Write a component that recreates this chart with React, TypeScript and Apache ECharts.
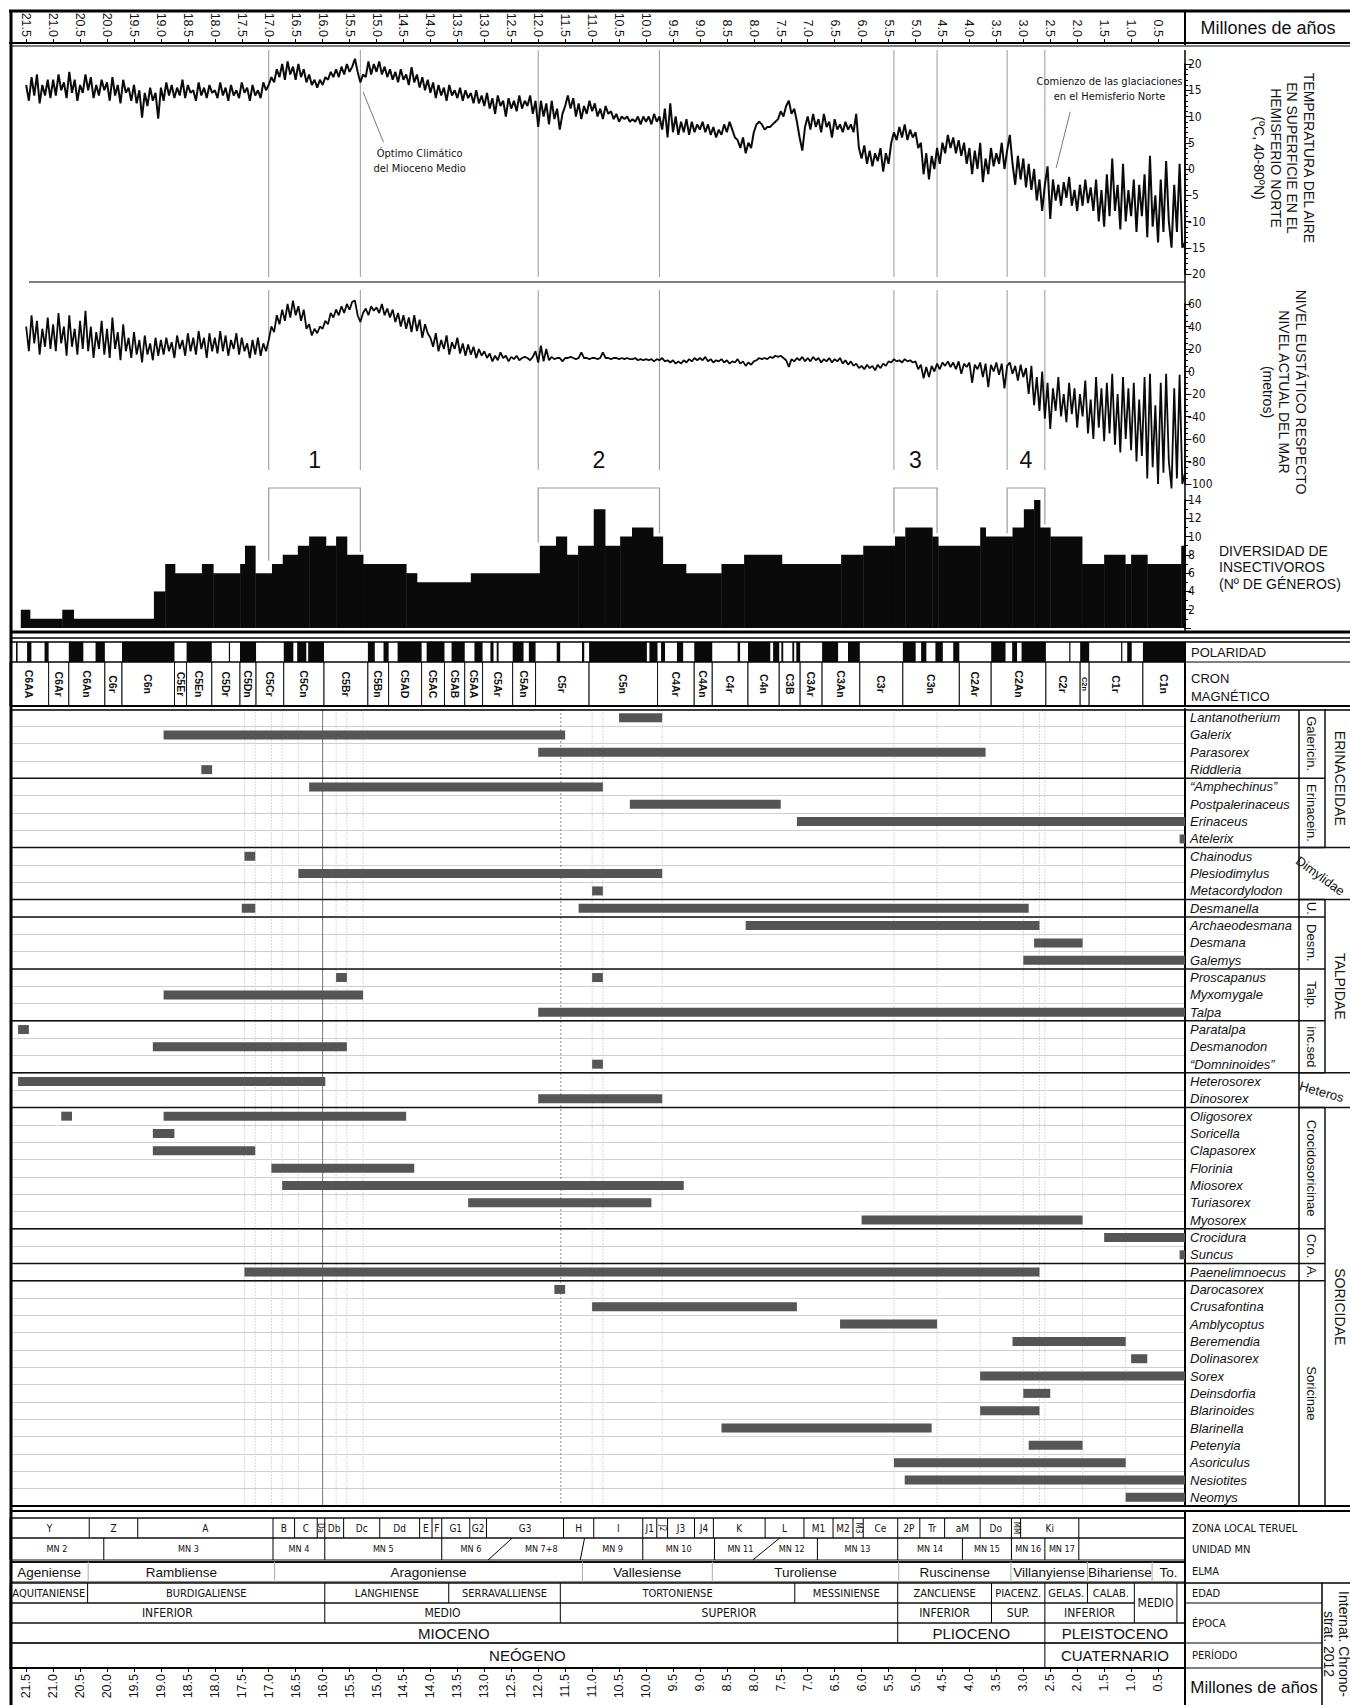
import React, { useEffect, useRef } from 'react';
import * as echarts from 'echarts';

const W = 1350;
const H = 1705;
const AGE_MAX = 21.8;
const FONT = "'Liberation Sans', Arial, Helvetica, sans-serif";
const NARROW = "'Liberation Sans Narrow', 'DejaVu Sans Condensed', 'Liberation Sans', sans-serif";

// ---------- tick labels ----------
const ageTicks = [21.5, 21.0, 20.5, 20.0, 19.5, 19.0, 18.5, 18.0, 17.5, 17.0, 16.5, 16.0, 15.5, 15.0, 14.5, 14.0, 13.5, 13.0, 12.5, 12.0, 11.5, 11.0, 10.5, 10.0, 9.5, 9.0, 8.5, 8.0, 7.5, 7.0, 6.5, 6.0, 5.5, 5.0, 4.5, 4.0, 3.5, 3.0, 2.5, 2.0, 1.5, 1.0, 0.5];

// ---------- temperature (ºC), sampled every 0.05 Ma ----------
const SAMPLE_STEP = 0.05;
const tempEarlyMiocene = [
  16, 13, 17.5, 14, 18, 12.5, 16, 14, 17, 13.5,
  17, 14, 18, 15, 16.5, 13.5, 18.5, 14.5, 17, 13, 16, 14.5, 18, 15, 17.5, 13.5, 16, 14, 17, 15,
  16.5, 13, 17.5, 14, 16, 12.5, 17, 14.5, 15.5, 13, 16, 12.5, 15, 9.8, 14.5, 12, 15.5, 13, 14.5, 9.6,
  15.5, 13, 16.5, 14, 16, 13.5, 15.5, 14, 17, 13.5, 16, 14.5, 15, 13, 16.5, 14, 15.5, 13.5, 16, 14.5,
  15, 13.5, 16.5, 14, 15.5, 13, 16, 14, 15, 13.5, 16.5, 14.5, 15.5, 13, 16, 14, 15, 13.5, 16.5, 15,
  16, 17.5, 16.5, 19, 17.5, 20, 17, 20.5, 18, 19.5, 17, 20, 17.5, 19, 16.5, 18, 16, 17, 15.5, 17,
];
const tempMiddleMiocene = [
  16, 17.5, 17, 18.5, 17.5, 19, 17.5, 19.5, 18, 20, 18.5, 19.5, 21, 18.5, 16.5, 18, 17.5, 20.5, 18, 20,
  18.5, 20.5, 18, 19.5, 17.5, 19, 17, 18.5, 16.5, 19, 17, 18, 16, 19.4, 16.5, 18, 15.5, 17.5, 15, 17,
  14.5, 16.5, 13.5, 16, 14, 15.5, 13, 16, 14, 15, 13.5, 15.5, 13, 15, 13.5, 14.5, 12.5, 15, 12.5, 14,
  12, 14.5, 11.5, 13.5, 10.5, 14, 12, 13, 10, 13.5, 11.5, 13, 11, 14, 11.5, 13, 12, 14, 10.5, 13,
  8, 13, 10, 12.5, 8.5, 13, 9.5, 11.5, 7.5, 10.5, 12, 14, 11.5, 13.5, 10, 12.5, 9.5, 12, 10.5, 13,
];
const tempLateMiocene = [
  11, 12.5, 10, 11.5, 9.5, 12, 10.5, 11, 9.5, 10.5, 9, 10, 9.5, 10, 9, 9.5, 9, 10, 8.5, 10,
  9, 10, 8.5, 10.5, 9, 10, 7.5, 11.5, 6, 12.5, 7, 10, 6.5, 9, 7, 9.5, 6.5, 9, 7, 8.5,
  7.5, 9, 7, 8.5, 6.5, 8, 6, 7.5, 6.5, 8.5, 7, 9, 7.5, 6, 5.5, 4, 6, 3, 5, 4,
  7, 8.5, 9, 8.5, 7.5, 8, 8, 8.5, 9, 9.5, 11, 10, 12, 13, 10.5, 11.5, 9, 6, 3.5, 8,
  10, 7.5, 10.5, 8, 9.5, 7, 10.5, 8, 9, 6, 9.5, 7.5, 8.5, 7, 9, 7.5, 8.5, 7, 10.5, 4,
  2, 4.5, 1, 3.5, 0.5, 3, 1.5, 4, -0.5, 3, 1, 5, 7, 5.5, 8, 6, 8.5, 5.5, 7.5, 6,
];
const tempPliocene = [
  7, 4, 5, -1, 3, -2, 2.5, 0, 4, 1, 5, 3, 6.5, 4, 6, 3, 5.5, 2.5, 5, 1,
  4, -1, 3.5, 0, 5, -2.5, 2, -1, 4, 0.5, 3, 1, 5, 0, 3.5, 6.5, 1, -3, 2.5, -2,
  2, -3.5, 1, -4, 0, -6, -2, -8, -3, 0.5, -9.5, -2, -6, -3, -7, -2.5, -5.5, -1.5, -7, -4,
];
const tempPleistocene = [
  -8, -3, -7, -2, -6.5, -3.5, -8, -2, -10, -4, -11, -1, -9, 2, -8, -3, -11.5, 1, -10, -4,
  -9, -2, -12, -3, -9, -1, -13, 2.5, -11, -5, -14, -2, -12, 1.5, -10, -15, -3, -12, 1, -15,
  -14,
];

// ---------- eustatic sea level (m), sampled every 0.05 Ma ----------
const seaEarlyMiocene = [
  40, 18, 50, 25, 45, 15, 38, 22, 48, 20,
  42, 18, 52, 25, 40, 14, 50, 22, 38, 15, 45, 20, 54, 18, 40, 12, 35, 20, 45, 15,
  38, 12, 48, 20, 35, 10, 42, 18, 30, 12, 35, 15, 28, 8, 32, 15, 25, 10, 30, 14,
  28, 15, 30, 18, 26, 12, 32, 20, 28, 14, 34, 18, 30, 15, 36, 20, 30, 12, 34, 18,
  30, 16, 36, 18, 32, 14, 28, 20, 34, 15, 30, 18, 25, 12, 28, 15, 30, 14, 25, 18,
  28, 40, 35, 50, 42, 55, 45, 60, 48, 63, 50, 58, 45, 55, 38, 42, 32, 38, 34, 40,
];
const seaMiddleMiocene = [
  38, 45, 42, 52, 48, 55, 50, 58, 52, 60, 55, 62, 63, 50, 44, 52, 56, 50, 58, 54,
  57, 52, 60, 50, 56, 48, 55, 44, 52, 40, 50, 38, 48, 35, 50, 36, 46, 30, 42, 34,
  30, 22, 34, 18, 28, 20, 32, 15, 26, 20, 30, 16, 25, 14, 24, 15, 22, 12, 20, 14,
  18, 12, 16, 9, 14, 10, 17, 12, 14, 9, 13, 11, 14, 10, 12, 13, 12, 10, 13, 18,
  8, 23, 9, 20, 10, 13, 11, 12, 12, 9, 12, 12, 13, 12, 11, 12, 17, 12, 12, 11,
];
const seaLateMiocene = [
  12, 12, 11, 12, 17, 12, 12, 11, 12, 12, 11, 12, 11, 12, 11, 11, 12, 10, 11, 10,
  11, 10, 11, 9, 11, 10, 12, 9, 10, 8, 10, 7, 9, 7, 10, 8, 11, 9, 12, 10,
  12, 10, 13, 9, 11, 8, 10, 9, 11, 8, 10, 7, 9, 8, 11, 7, 9, 5, 8, 6,
  9, 10, 12, 11, 12, 11, 13, 12, 14, 13, 14, 12, 10, 4, 11, 9, 12, 10, 13, 9,
  12, 9, 13, 10, 12, 8, 11, 9, 12, 8, 11, 9, 12, 7, 10, 6, 9, 5, 7, 3,
  5, 2, 6, 3, 5, 1, 6, 3, 7, 5, 9, 8, 11, 9, 10, 8, 11, 9, 10, 8,
];
const seaPliocene = [
  9, 2, 6, -6, 4, -5, 5, 0, 7, 2, 8, 5, 9, 4, 8, 2, 9, -2, 7, 4,
  8, -10, 6, 2, 8, -5, 7, -14, 6, 0, 8, -3, 7, -15, 5, 8, -2, 5, -8, 6,
  -5, 3, -20, 5, -30, -5, -35, 0, -42, -10, -51, -15, -35, -5, -40, -20, -45, -10, -38, -15,
];
const seaPleistocene = [
  -50, -20, -40, -8, -55, -25, -60, -5, -50, -15, -62, -10, -55, -2, -65, -20, -72, -5, -60, -15,
  -70, -10, -80, -25, -75, -5, -95, -2, -85, -30, -100, -10, -90, -2, -80, -104, -15, -95, -3, -100,
  -90,
];

// ---------- insectivore diversity (number of genera): [older, younger, genera] ----------
const diversity = [
  [21.6, 21.43, 2], [21.43, 20.83, 1], [20.83, 20.62, 2], [20.62, 19.13, 1], [19.13, 18.92, 4],
  [18.92, 18.74, 7], [18.74, 18.24, 6], [18.24, 18.03, 7], [18.03, 17.53, 6], [17.53, 17.44, 7],
  [17.44, 17.25, 9], [17.25, 16.94, 6], [16.94, 16.74, 7], [16.74, 16.46, 8], [16.46, 16.25, 9],
  [16.25, 15.94, 10], [15.94, 15.75, 9], [15.75, 15.55, 10], [15.55, 15.25, 8], [15.25, 14.45, 7],
  [14.45, 14.25, 6], [14.25, 13.25, 5], [13.25, 11.97, 6], [11.97, 11.67, 9], [11.67, 11.47, 10],
  [11.47, 11.26, 8], [11.26, 10.97, 9], [10.97, 10.76, 13], [10.76, 10.48, 9], [10.48, 10.26, 10],
  [10.26, 9.87, 11], [9.87, 9.69, 10], [9.69, 9.26, 7], [9.26, 8.6, 6], [8.6, 8.18, 7],
  [8.18, 7.48, 8], [7.48, 6.38, 7], [6.38, 5.97, 8], [5.97, 5.38, 9], [5.38, 5.19, 10],
  [5.19, 4.69, 11], [4.69, 4.58, 10], [4.58, 3.8, 9], [3.8, 3.7, 11], [3.7, 3.2, 10],
  [3.2, 2.99, 11], [2.99, 2.8, 13], [2.8, 2.69, 14], [2.69, 2.5, 11], [2.5, 1.91, 10],
  [1.91, 1.5, 7], [1.5, 1.11, 8], [1.11, 1.0, 7], [1.0, 0.7, 8], [0.7, 0.07, 7], [0.07, 0, 9],
];

const diversityPulses = [
  { label: '1', from: 17.0, to: 15.3 },
  { label: '2', from: 12.0, to: 9.75 },
  { label: '3', from: 5.4, to: 4.6 },
  { label: '4', from: 3.3, to: 2.6 },
];

const annotations = [
  { text: 'Óptimo Climático\ndel Mioceno Medio', at: [14.2, 1.6], from: [15.25, 14.7], to: [14.87, 5.1] },
  { text: 'Comienzo de las glaciaciones\nen el Hemisferio Norte', at: [1.4, 15.3], from: [2.13, 10.9], to: [2.39, 0.2] },
];

// ---------- magnetic polarity: normal intervals [older, younger] ----------
const normalPolarity = [
  [21.8, 21.767], [21.688, 21.659], [21.483, 21.403], [21.159, 21.083], [20.709, 20.439], [20.213, 20.04],
  [19.722, 18.748], [18.524, 18.056], [17.74, 17.717], [17.533, 17.235], [16.721, 16.543], [16.472, 16.303],
  [16.268, 15.974], [15.16, 15.032], [14.87, 14.775], [14.609, 14.163], [14.07, 13.739], [13.608, 13.363],
  [13.183, 13.032], [12.887, 12.829], [12.77, 12.735], [12.474, 12.272], [12.174, 12.049], [11.657, 11.592],
  [11.188, 11.146], [11.056, 9.984], [9.937, 9.786], [9.721, 9.647], [9.426, 9.311], [9.105, 8.771],
  [8.3, 8.254], [8.108, 7.695], [7.642, 7.528], [7.489, 7.454], [7.285, 7.251], [7.212, 7.14],
  [6.733, 6.436], [6.252, 6.033], [5.235, 4.997], [4.896, 4.799], [4.631, 4.493], [4.3, 4.187],
  [3.596, 3.33], [3.207, 3.116], [3.032, 2.581], [2.148, 2.128], [1.945, 1.778], [1.185, 1.173],
  [1.072, 0.988], [0.781, 0],
];

const chrons = [
  ['C6AA', 21.8, 21.083], ['C6Ar', 21.083, 20.709], ['C6An', 20.709, 20.04], ['C6r', 20.04, 19.722],
  ['C6n', 19.722, 18.748], ['C5Er', 18.748, 18.524], ['C5En', 18.524, 18.056], ['C5Dr', 18.056, 17.533],
  ['C5Dn', 17.533, 17.235], ['C5Cr', 17.235, 16.721], ['C5Cn', 16.721, 15.974], ['C5Br', 15.974, 15.16],
  ['C5Bn', 15.16, 14.775], ['C5AD', 14.775, 14.163], ['C5AC', 14.163, 13.739], ['C5AB', 13.739, 13.363],
  ['C5AA', 13.363, 13.032], ['C5Ar', 13.032, 12.474], ['C5An', 12.474, 12.049], ['C5r', 12.049, 11.056],
  ['C5n', 11.056, 9.786], ['C4Ar', 9.786, 9.105], ['C4An', 9.105, 8.771], ['C4r', 8.771, 8.108],
  ['C4n', 8.108, 7.528], ['C3B', 7.528, 7.14], ['C3Ar', 7.14, 6.733], ['C3An', 6.733, 6.033],
  ['C3r', 6.033, 5.235], ['C3n', 5.235, 4.187], ['C2Ar', 4.187, 3.596], ['C2An', 3.596, 2.581],
  ['C2r', 2.581, 1.945], ['C2n', 1.945, 1.778], ['C1r', 1.778, 0.781], ['C1n', 0.781, 0],
];

// ---------- taxa and stratigraphic ranges ----------
const taxa = [
  'Lantanotherium', 'Galerix', 'Parasorex', 'Riddleria',
  '“Amphechinus”', 'Postpalerinaceus', 'Erinaceus', 'Atelerix',
  'Chainodus', 'Plesiodimylus', 'Metacordylodon',
  'Desmanella',
  'Archaeodesmana', 'Desmana', 'Galemys',
  'Proscapanus', 'Myxomygale', 'Talpa',
  'Paratalpa', 'Desmanodon', '“Domninoides”',
  'Heterosorex', 'Dinosorex',
  'Oligosorex', 'Soricella', 'Clapasorex', 'Florinia', 'Miosorex', 'Turiasorex', 'Myosorex',
  'Crocidura', 'Suncus',
  'Paenelimnoecus',
  'Darocasorex', 'Crusafontina', 'Amblycoptus', 'Beremendia', 'Dolinasorex', 'Sorex', 'Deinsdorfia',
  'Blarinoides', 'Blarinella', 'Petenyia', 'Asoriculus', 'Nesiotites', 'Neomys',
];

const taxonRanges = [
  ['Lantanotherium', 10.5, 9.7], ['Galerix', 18.95, 11.5], ['Parasorex', 12.0, 3.7], ['Riddleria', 18.25, 18.05],
  ['“Amphechinus”', 16.25, 10.8], ['Postpalerinaceus', 10.3, 7.5], ['Erinaceus', 7.2, 0], ['Atelerix', 0.1, 0],
  ['Chainodus', 17.45, 17.25], ['Plesiodimylus', 16.45, 9.7], ['Metacordylodon', 11.0, 10.8],
  ['Desmanella', 17.5, 17.25], ['Desmanella', 11.25, 2.9],
  ['Archaeodesmana', 8.15, 2.7], ['Desmana', 2.8, 1.9], ['Galemys', 3.0, 0],
  ['Proscapanus', 15.75, 15.55], ['Proscapanus', 11.0, 10.8], ['Myxomygale', 18.95, 15.25], ['Talpa', 12.0, 0],
  ['Paratalpa', 21.65, 21.45], ['Desmanodon', 19.15, 15.55], ['“Domninoides”', 11.0, 10.8],
  ['Heterosorex', 21.65, 15.95], ['Dinosorex', 12.0, 9.7],
  ['Oligosorex', 20.85, 20.65], ['Oligosorex', 18.95, 14.45], ['Soricella', 19.15, 18.75], ['Clapasorex', 19.15, 17.25],
  ['Florinia', 16.95, 14.3], ['Miosorex', 16.75, 9.3], ['Turiasorex', 13.3, 9.9], ['Myosorex', 6.0, 1.9],
  ['Crocidura', 1.5, 0], ['Suncus', 0.1, 0], ['Paenelimnoecus', 17.45, 2.7],
  ['Darocasorex', 11.7, 11.5], ['Crusafontina', 11.0, 7.2], ['Amblycoptus', 6.4, 4.6], ['Beremendia', 3.2, 1.1],
  ['Dolinasorex', 1.0, 0.7], ['Sorex', 3.8, 0], ['Deinsdorfia', 3.0, 2.5], ['Blarinoides', 3.8, 2.7],
  ['Blarinella', 8.6, 4.7], ['Petenyia', 2.9, 1.9], ['Asoriculus', 5.4, 1.1], ['Nesiotites', 5.2, 0], ['Neomys', 1.1, 0],
];

const subfamilies = [
  ['Galericin.', 0, 3], ['Erinacein.', 4, 7], ['', 8, 10], ['U.', 11, 11], ['Desm.', 12, 14],
  ['Talp.', 15, 17], ['inc.sed', 18, 20], ['', 21, 22], ['Crocidosoricinae', 23, 29], ['Cro.', 30, 31],
  ['A.', 32, 32], ['Soricinae', 33, 45],
];
const families = [
  ['ERINACEIDAE', 0, 7, 0], ['Dimylidae', 8, 10, -0.63], ['TALPIDAE', 11, 20, 0],
  ['Heteros', 21, 22, -0.28], ['SORICIDAE', 23, 45, 0],
];

const rangeGuides = [
  [16.0, 'solid'], [11.58, 'dotted'],
  [17.45, 'light'], [17.25, 'light'], [16.95, 'light'], [16.75, 'light'], [16.45, 'light'], [15.75, 'light'],
  [15.55, 'light'], [15.25, 'light'], [11.0, 'light'], [10.8, 'light'], [9.7, 'light'], [5.4, 'light'],
  [4.6, 'light'], [3.8, 'light'], [3.0, 'light'], [2.7, 'light'], [2.6, 'light'], [1.9, 'light'], [1.1, 'light'],
];

// ---------- stratigraphic table ----------
const zonaEdges = [21.8, 20.33, 19.43, 16.92, 16.52, 16.1, 15.96, 15.61, 14.94, 14.2, 13.97, 13.79, 13.27, 12.96, 11.53, 10.97, 10.06, 9.8, 9.6, 9.1, 8.75, 7.79, 7.07, 6.53, 6.16, 5.97, 5.33, 4.92, 4.46, 3.8, 3.22, 3.05, 1.97, 0];
const zonaLabels = ['Y', 'Z', 'A', 'B', 'C', 'Da', 'Db', 'Dc', 'Dd', 'E', 'F', 'G1', 'G2', 'G3', 'H', 'I', 'J1', 'J2', 'J3', 'J4', 'K', 'L', 'M1', 'M2', 'M3', 'Ce', '2P', 'Tr', 'aM', 'Do', 'MM', 'Ki', ''];
const mnEdges = [[21.8, 21.8], [20.06, 20.06], [16.92, 16.92], [15.96, 15.96], [13.79, 13.79], [12.48, 12.93], [11.14, 11.22], [10.06, 10.06], [8.73, 8.73], [7.52, 8.02], [6.82, 6.82], [5.33, 5.33], [4.13, 4.13], [3.22, 3.22], [2.6, 2.6], [1.97, 1.97], [0, 0]];
const mnLabels = ['MN 2', 'MN 3', 'MN 4', 'MN 5', 'MN 6', 'MN 7+8', 'MN 9', 'MN 10', 'MN 11', 'MN 12', 'MN 13', 'MN 14', 'MN 15', 'MN 16', 'MN 17', ''];
const elmaEdges = [21.8, 20.35, 16.89, 11.18, 8.77, 5.31, 3.23, 1.81, 0.61, 0];
const elmaLabels = ['Ageniense', 'Rambliense', 'Aragoniense', 'Vallesiense', 'Turoliense', 'Ruscinense', 'Villanyiense', 'Bihariense', 'To.'];
const edadEdges = [21.8, 20.36, 15.96, 13.66, 11.59, 7.24, 5.33, 3.59, 2.6, 1.81, 0.94];
const edadLabels = ['AQUITANIENSE', 'BURDIGALIENSE', 'LANGHIENSE', 'SERRAVALLIENSE', 'TORTONIENSE', 'MESSINIENSE', 'ZANCLIENSE', 'PIACENZ.', 'GELAS.', 'CALAB.'];
const subEpochEdges = [21.8, 15.96, 11.59, 5.33, 3.59, 2.6, 0.94];
const subEpochLabels = ['INFERIOR', 'MEDIO', 'SUPERIOR', 'INFERIOR', 'SUP.', 'INFERIOR'];
const spanEdges = [0.94, 0.15, 0];
const spanLabels = ['MEDIO', ''];
const epochEdges = [21.8, 5.33, 2.6, 0];
const epochLabels = ['MIOCENO', 'PLIOCENO', 'PLEISTOCENO'];
const periodEdges = [21.8, 2.6, 0];
const periodLabels = ['NEÓGENO', 'CUATERNARIO'];

// ---------- layout (pixels) ----------
const GL = 10;
const GW = 1175;
const GRIDS = [
  { top: 12, height: 31 },   // 0 top age axis
  { top: 64, height: 210 },  // 1 temperature
  { top: 304, height: 180 }, // 2 sea level
  { top: 500, height: 128 }, // 3 diversity
  { top: 642, height: 20 },  // 4 polarity
  { top: 662, height: 44 },  // 5 chrons
  { top: 709, height: 797 }, // 6 taxa ranges
  { top: 1518, height: 150 },// 7 strat table
  { top: 1668, height: 37 }, // 8 bottom age axis
];
const COL = { chartRight: 1185, taxaRight: 1299, subRight: 1325, subMid: 1311, famMid: 1340, right: 1350 };
const ROWS = {
  zona: { y0: 0, y1: 20, size: 10, family: NARROW, div: '#000', top: 1.5 },
  mn: { y0: 20, y1: 42, size: 9, family: NARROW, div: '#000', top: 1 },
  elma: { y0: 44, y1: 64, size: 13.5, family: FONT, div: '#aaa', top: 2 },
  edad: { y0: 65, y1: 85, size: 11, family: NARROW, div: '#000', top: 1.5 },
  sub: { y0: 85, y1: 105, size: 12, family: NARROW, div: '#000', top: 1 },
  span: { y0: 65, y1: 105, size: 12, family: NARROW, div: '#000', top: 1.5 },
  epoch: { y0: 105, y1: 125, size: 15, family: FONT, div: '#000', top: 1 },
  period: { y0: 125, y1: 150, size: 15, family: FONT, div: '#000', top: 1.5 },
};

function sampled(startAge, values) {
  return values.map((v, i) => [Math.round((startAge - i * SAMPLE_STEP) * 100) / 100, v]);
}
const tempSeries = [
  ...sampled(21.5, tempEarlyMiocene), ...sampled(16.0, tempMiddleMiocene), ...sampled(11.0, tempLateMiocene),
  ...sampled(5.0, tempPliocene), ...sampled(2.0, tempPleistocene),
];
const seaSeries = [
  ...sampled(21.5, seaEarlyMiocene), ...sampled(16.0, seaMiddleMiocene), ...sampled(11.0, seaLateMiocene),
  ...sampled(5.0, seaPliocene), ...sampled(2.0, seaPleistocene),
];

function diversityNear(age) {
  let m = 0;
  diversity.forEach(([o, y, v]) => { if (o >= age - 0.08 && y <= age + 0.08) m = Math.max(m, v); });
  return m;
}

function flatCells(row, edges, labels) {
  return labels.map((label, i) => ({ row, l: [edges[i], edges[i]], r: [edges[i + 1], edges[i + 1]], label }));
}
const tableCells = [
  ...flatCells('zona', zonaEdges, zonaLabels),
  ...mnLabels.map((label, i) => ({ row: 'mn', l: mnEdges[i], r: mnEdges[i + 1], label })),
  ...flatCells('elma', elmaEdges, elmaLabels),
  ...flatCells('edad', edadEdges, edadLabels),
  ...flatCells('sub', subEpochEdges, subEpochLabels),
  ...flatCells('span', spanEdges, spanLabels),
  ...flatCells('epoch', epochEdges, epochLabels),
  ...flatCells('period', periodEdges, periodLabels),
];

const textStyle = (text, o: any = {}) => ({
  text,
  fill: o.color || '#111',
  fontSize: o.size || 13,
  fontFamily: o.family || FONT,
  fontWeight: o.weight || 'normal',
  fontStyle: o.style || 'normal',
  textAlign: o.align || 'center',
  align: o.align || 'center',
  textVerticalAlign: o.valign || 'middle',
  verticalAlign: o.valign || 'middle',
  lineHeight: o.lineHeight || Math.round((o.size || 13) * 1.2),
});
const txt = (x, y, text, o: any = {}) => ({ type: 'text', x, y, rotation: o.rotation || 0, silent: true, z: 100, style: textStyle(text, o) });
const hl = (x1, x2, y, w = 1, c = '#000') => ({ type: 'line', silent: true, z: 100, shape: { x1, y1: y, x2, y2: y }, style: { stroke: c, lineWidth: w } });
const vl = (x, y1, y2, w = 1, c = '#000') => ({ type: 'line', silent: true, z: 100, shape: { x1: x, y1, x2: x, y2 }, style: { stroke: c, lineWidth: w } });

function buildOption() {
  const grid = GRIDS.map((g) => ({ left: GL, width: GW, top: g.top, height: g.height, containLabel: false, outerBoundsMode: 'none' }));

  const xAxis = GRIDS.map((_, i) => {
    const base: any = { gridIndex: i, type: 'value', min: 0, max: AGE_MAX, inverse: true, show: false, splitLine: { show: false } };
    if (i === 0 || i === 8) {
      base.show = true;
      base.position = i === 0 ? 'bottom' : 'top';
      base.axisLine = { show: true, onZero: false, lineStyle: { color: '#000', width: 2 } };
      base.axisTick = { show: true, inside: true, length: 4, customValues: ageTicks, lineStyle: { color: '#000' } };
      base.axisLabel = {
        show: true, inside: true, rotate: -90, margin: 6, customValues: ageTicks,
        formatter: (v) => Number(v).toFixed(1), fontSize: 12.5, color: '#111', fontFamily: FONT,
      };
    }
    return base;
  });

  const hiddenY = (i) => ({ gridIndex: i, type: 'value', min: 0, max: 1, show: false, splitLine: { show: false } });
  const numAxis = (i, min, max, interval, split, fmt?) => ({
    gridIndex: i, type: 'value', min, max, interval, position: 'right',
    axisLine: { show: true, onZero: false, lineStyle: { color: '#000', width: 1.5 } },
    axisTick: { show: true, length: 6, lineStyle: { color: '#000' } },
    minorTick: { show: true, splitNumber: split, length: 3, lineStyle: { color: '#000' } },
    axisLabel: { margin: 3, fontSize: 12, color: '#111', fontFamily: NARROW, formatter: fmt },
    splitLine: { show: false }, minorSplitLine: { show: false },
  });

  const yAxis = [
    hiddenY(0),
    numAxis(1, -20, 20, 5, 5),
    numAxis(2, -100, 60, 20, 4),
    numAxis(3, 0, 14, 2, 2, (v) => (v === 0 ? '' : String(v))),
    hiddenY(4),
    hiddenY(5),
    {
      gridIndex: 6, type: 'category', data: taxa, inverse: true, position: 'right',
      axisLine: { show: true, lineStyle: { color: '#000', width: 2 } },
      axisTick: { show: false },
      axisLabel: { margin: 5, fontSize: 13, fontStyle: 'italic', color: '#111', fontFamily: FONT, interval: 0 },
      splitLine: { show: true, interval: 0, lineStyle: { color: '#cfcfcf', width: 1 } },
    },
    { gridIndex: 7, type: 'value', min: 0, max: 150, inverse: true, show: false, splitLine: { show: false } },
    hiddenY(8),
  ];

  const guideAges = diversityPulses.flatMap((b) => [b.from, b.to]);

  const series: any[] = [
    // vertical guides through the temperature panel
    {
      type: 'custom', xAxisIndex: 1, yAxisIndex: 1, z: 1, silent: true,
      data: guideAges.map((a) => [a, 0]),
      renderItem: (params, api) => {
        const cs = params.coordSys;
        const x = api.coord([api.value(0), 0])[0];
        return { type: 'line', shape: { x1: x, y1: cs.y - 14, x2: x, y2: cs.y + cs.height + 3 }, style: { stroke: '#9a9a9a', lineWidth: 1 } };
      },
    },
    // vertical guides + pulse numbers through the sea-level panel
    {
      type: 'custom', xAxisIndex: 2, yAxisIndex: 2, z: 1, silent: true,
      data: guideAges.map((a) => [a, 0]),
      renderItem: (params, api) => {
        const cs = params.coordSys;
        const x = api.coord([api.value(0), 0])[0];
        return { type: 'line', shape: { x1: x, y1: cs.y - 14, x2: x, y2: cs.y + cs.height - 14 }, style: { stroke: '#9a9a9a', lineWidth: 1 } };
      },
    },
    {
      type: 'custom', xAxisIndex: 2, yAxisIndex: 2, z: 3, silent: true,
      data: diversityPulses.map((b) => [(b.from + b.to) / 2, 0]),
      renderItem: (params, api) => {
        const cs = params.coordSys;
        const x = api.coord([api.value(0), 0])[0];
        return { type: 'text', x, y: cs.y + cs.height - 24, style: textStyle(diversityPulses[params.dataIndex].label, { size: 23, color: '#111' }) };
      },
    },
    {
      name: 'Temperatura', type: 'line', xAxisIndex: 1, yAxisIndex: 1, data: tempSeries, showSymbol: false, symbol: 'none',
      clip: false, z: 2, lineStyle: { color: '#0a0a0a', width: 2 }, silent: true,
    },
    {
      name: 'Nivel del mar', type: 'line', xAxisIndex: 2, yAxisIndex: 2, data: seaSeries, showSymbol: false, symbol: 'none',
      clip: false, z: 2, lineStyle: { color: '#0a0a0a', width: 1.8 }, silent: true,
    },
    // annotations
    {
      type: 'custom', xAxisIndex: 1, yAxisIndex: 1, z: 4, silent: true,
      data: annotations.map((a) => a.at),
      renderItem: (params, api) => {
        const a = annotations[params.dataIndex];
        const t = api.coord(a.at);
        const f = api.coord(a.from);
        const g = api.coord(a.to);
        return {
          type: 'group',
          children: [
            { type: 'line', shape: { x1: f[0], y1: f[1], x2: g[0], y2: g[1] }, style: { stroke: '#555', lineWidth: 0.8 } },
            { type: 'text', x: t[0], y: t[1], style: textStyle(a.text, { size: 11, family: NARROW, lineHeight: 15 }) },
          ],
        };
      },
    },
    // diversity histogram
    {
      type: 'custom', xAxisIndex: 3, yAxisIndex: 3, z: 2, silent: true,
      data: diversity,
      renderItem: (params, api) => {
        const p1 = api.coord([api.value(0), api.value(2)]);
        const p2 = api.coord([api.value(1), 0]);
        return { type: 'rect', shape: { x: p1[0], y: p1[1], width: p2[0] - p1[0] + 0.4, height: p2[1] - p1[1] }, style: { fill: '#0a0a0a' } };
      },
    },
    // diversity pulse brackets
    {
      type: 'custom', xAxisIndex: 3, yAxisIndex: 3, z: 3, silent: true,
      data: diversityPulses.map((b) => [b.from, b.to]),
      renderItem: (params, api) => {
        const b = diversityPulses[params.dataIndex];
        const cs = params.coordSys;
        const yTop = cs.y - 12;
        const xa = api.coord([b.from, 0])[0];
        const xb = api.coord([b.to, 0])[0];
        const ya = api.coord([0, diversityNear(b.from) + 0.35])[1];
        const yb = api.coord([0, diversityNear(b.to) + 0.35])[1];
        return { type: 'polyline', shape: { points: [[xa, ya], [xa, yTop], [xb, yTop], [xb, yb]] }, style: { stroke: '#9a9a9a', lineWidth: 1.2, fill: 'none' } };
      },
    },
    // polarity
    {
      type: 'custom', xAxisIndex: 4, yAxisIndex: 4, z: 2, silent: true,
      data: normalPolarity,
      renderItem: (params, api) => {
        const cs = params.coordSys;
        const x1 = api.coord([api.value(0), 0])[0];
        const x2 = api.coord([api.value(1), 0])[0];
        return { type: 'rect', shape: { x: x1, y: cs.y, width: Math.max(x2 - x1, 1.2), height: cs.height }, style: { fill: '#0a0a0a' } };
      },
    },
    // chrons
    {
      type: 'custom', xAxisIndex: 5, yAxisIndex: 5, z: 2, silent: true,
      data: chrons.map((c) => [c[1], c[2]]),
      renderItem: (params, api) => {
        const cs = params.coordSys;
        const c = chrons[params.dataIndex];
        const x1 = api.coord([api.value(0), 0])[0];
        const x2 = api.coord([api.value(1), 0])[0];
        const w = x2 - x1;
        return {
          type: 'group',
          children: [
            { type: 'rect', shape: { x: x1, y: cs.y, width: w, height: cs.height }, style: { fill: '#fff', stroke: '#111', lineWidth: 1 } },
            { type: 'text', x: x1 + w / 2, y: cs.y + cs.height / 2, rotation: -Math.PI / 2, style: textStyle(c[0], { size: w < 12 ? 7.5 : 10.5, weight: 'bold', family: FONT }) },
          ],
        };
      },
    },
    // range chart guides
    {
      type: 'custom', xAxisIndex: 6, yAxisIndex: 6, z: 1, silent: true,
      data: rangeGuides.map((g) => [g[0], 0]),
      renderItem: (params, api) => {
        const cs = params.coordSys;
        const g = rangeGuides[params.dataIndex];
        const x = api.coord([api.value(0), 0])[0];
        const st = g[1] === 'solid' ? { stroke: '#777', lineWidth: 1 } : g[1] === 'dotted' ? { stroke: '#888', lineWidth: 1, lineDash: [2, 2] } : { stroke: '#d8d8d8', lineWidth: 1, lineDash: [2, 1] };
        return { type: 'line', shape: { x1: x, y1: cs.y, x2: x, y2: cs.y + cs.height }, style: st };
      },
    },
    // taxon range bars
    {
      type: 'custom', xAxisIndex: 6, yAxisIndex: 6, z: 3, silent: true,
      data: taxonRanges.map((r) => [r[1], taxa.indexOf(r[0] as string), r[2]]),
      renderItem: (params, api) => {
        const p1 = api.coord([api.value(0), api.value(1)]);
        const p2 = api.coord([api.value(2), api.value(1)]);
        return { type: 'rect', shape: { x: p1[0], y: p1[1] - 4.5, width: Math.max(p2[0] - p1[0], 4), height: 9 }, style: { fill: '#555' } };
      },
    },
    // subfamily separators & labels
    {
      type: 'custom', xAxisIndex: 6, yAxisIndex: 6, z: 4, silent: true,
      data: subfamilies.map((s) => [0, s[1]]),
      renderItem: (params, api) => {
        const s = subfamilies[params.dataIndex];
        const cs = params.coordSys;
        const band = api.size([0, 1])[1];
        const yTop = api.coord([0, s[1]])[1] - band / 2;
        const yBot = api.coord([0, s[2]])[1] + band / 2;
        const children: any[] = [
          { type: 'line', shape: { x1: cs.x, y1: yBot, x2: COL.subRight, y2: yBot }, style: { stroke: '#111', lineWidth: 1.5 } },
        ];
        if (s[0]) {
          children.push({ type: 'text', x: COL.subMid, y: (yTop + yBot) / 2, rotation: -Math.PI / 2, style: textStyle(s[0], { size: 13 }) });
        }
        return { type: 'group', children };
      },
    },
    // family separators & labels
    {
      type: 'custom', xAxisIndex: 6, yAxisIndex: 6, z: 4, silent: true,
      data: families.map((f) => [0, f[1]]),
      renderItem: (params, api) => {
        const f = families[params.dataIndex];
        const band = api.size([0, 1])[1];
        const yTop = api.coord([0, f[1]])[1] - band / 2;
        const yBot = api.coord([0, f[2]])[1] + band / 2;
        const children: any[] = [
          { type: 'line', shape: { x1: COL.taxaRight, y1: yBot, x2: COL.right, y2: yBot }, style: { stroke: '#111', lineWidth: 1.5 } },
        ];
        if (f[3] === 0) {
          children.push({ type: 'line', shape: { x1: COL.subRight, y1: yTop, x2: COL.subRight, y2: yBot }, style: { stroke: '#111', lineWidth: 1.5 } });
          children.push({ type: 'text', x: COL.famMid, y: (yTop + yBot) / 2, rotation: -Math.PI / 2, style: textStyle(f[0], { size: 14 }) });
        } else {
          children.push({ type: 'text', x: COL.taxaRight + 3, y: yTop + 5, rotation: f[3], style: textStyle(f[0], { size: 13, align: 'left', valign: 'top' }) });
        }
        return { type: 'group', children };
      },
    },
    // stratigraphic table
    {
      type: 'custom', xAxisIndex: 7, yAxisIndex: 7, z: 2, silent: true,
      data: tableCells.map((c) => [c.l[0], ROWS[c.row].y0]),
      renderItem: (params, api) => {
        const c = tableCells[params.dataIndex];
        const r = ROWS[c.row];
        const yT = api.coord([0, r.y0])[1];
        const yB = api.coord([0, r.y1])[1];
        const xlT = api.coord([c.l[0], 0])[0];
        const xlB = api.coord([c.l[1], 0])[0];
        const xrT = api.coord([c.r[0], 0])[0];
        const xrB = api.coord([c.r[1], 0])[0];
        const cx = (xlT + xlB + xrT + xrB) / 4;
        const w = (xrT + xrB - xlT - xlB) / 2;
        const children: any[] = [
          { type: 'line', shape: { x1: xlT, y1: yT, x2: xrT, y2: yT }, style: { stroke: '#111', lineWidth: r.top } },
          { type: 'line', shape: { x1: xlB, y1: yB, x2: xrB, y2: yB }, style: { stroke: '#111', lineWidth: 1 } },
          { type: 'line', shape: { x1: xlT, y1: yT, x2: xlB, y2: yB }, style: { stroke: r.div, lineWidth: 1 } },
        ];
        if (c.label) {
          const rot = w < 12 && c.label.length > 1;
          children.push({
            type: 'text', x: cx, y: (yT + yB) / 2, rotation: rot ? -Math.PI / 2 : 0,
            style: textStyle(c.label, { size: rot ? 8 : r.size, family: r.family }),
          });
        }
        return { type: 'group', children };
      },
    },
  ];

  const graphic = [
    // outer frame
    hl(9, W, 11, 3), vl(11, 10, H, 3),
    // top age box
    hl(10, W, 43, 2), hl(10, W, 46, 1), vl(COL.chartRight, 11, 45, 2),
    txt(1268, 28, 'Millones de años', { size: 18 }),
    // panel separators
    hl(29, COL.chartRight, 282, 2, '#808080'),
    vl(COL.chartRight, 50, 631, 1.5),
    hl(10, W, 632, 3), hl(10, W, 638, 1.5),
    // right titles
    txt(1284, 158, 'TEMPERATURA DEL AIRE\nEN SUPERFICIE EN EL\nHEMISFERIO NORTE\n(ºC, 40-80ºN)', { size: 14, rotation: -Math.PI / 2, lineHeight: 16.5 }),
    txt(1284, 392, 'NIVEL EUSTÁTICO RESPECTO\nNIVEL ACTUAL DEL MAR\n(metros)', { size: 14, rotation: -Math.PI / 2, lineHeight: 16.5 }),
    txt(1219, 567, 'DIVERSIDAD DE\nINSECTIVOROS\n(Nº DE GÉNEROS)', { size: 14, align: 'left', lineHeight: 16.5 }),
    // polarity / chron frame
    hl(10, W, 642, 1.5), hl(10, W, 662, 1), hl(10, W, 706, 2), hl(10, W, 710, 1.5),
    vl(COL.chartRight, 642, 706, 2),
    txt(1191, 652, 'POLARIDAD', { size: 13, align: 'left' }),
    txt(1191, 687, 'CRON\nMAGNÉTICO', { size: 13, align: 'left', lineHeight: 18 }),
    // range chart frame
    vl(COL.taxaRight, 710, 1506, 1.5),
    hl(10, W, 1506, 2), hl(10, W, 1511, 2),
    // table right column
    vl(COL.chartRight, 1511, H, 2),
    hl(COL.chartRight, W, 1583, 1.5), hl(COL.chartRight, 1322, 1603, 1), hl(COL.chartRight, 1322, 1643, 1), hl(COL.chartRight, 1322, 1668, 1),
    vl(1322, 1583, H, 1.5),
    txt(1192, 1528, 'ZONA LOCAL TERUEL', { size: 11, align: 'left', family: NARROW }),
    txt(1192, 1549, 'UNIDAD MN', { size: 11, align: 'left', family: NARROW }),
    txt(1192, 1571, 'ELMA', { size: 11, align: 'left', family: NARROW }),
    txt(1192, 1593, 'EDAD', { size: 11, align: 'left', family: NARROW }),
    txt(1192, 1623, 'ÉPOCA', { size: 11, align: 'left', family: NARROW }),
    txt(1192, 1655, 'PERÍODO', { size: 11, align: 'left', family: NARROW }),
    txt(1254, 1687, 'Millones de años', { size: 17 }),
    txt(1336, 1644, 'Internat. Chrono-\nstrat. 2012', { size: 14, rotation: -Math.PI / 2, lineHeight: 15 }),
  ];

  return {
    animation: false,
    backgroundColor: '#fff',
    textStyle: { fontFamily: FONT },
    grid, xAxis, yAxis, series, graphic,
  };
}

export default function App() {
  const ref = useRef<HTMLDivElement>(null);
  useEffect(() => {
    document.body.style.margin = '0';
    const chart = echarts.init(ref.current as HTMLDivElement, null, { renderer: 'svg', width: W, height: H });
    chart.setOption(buildOption() as any);
    return () => chart.dispose();
  }, []);
  return <div ref={ref} style={{ width: W, height: H, background: '#fff' }} />;
}
